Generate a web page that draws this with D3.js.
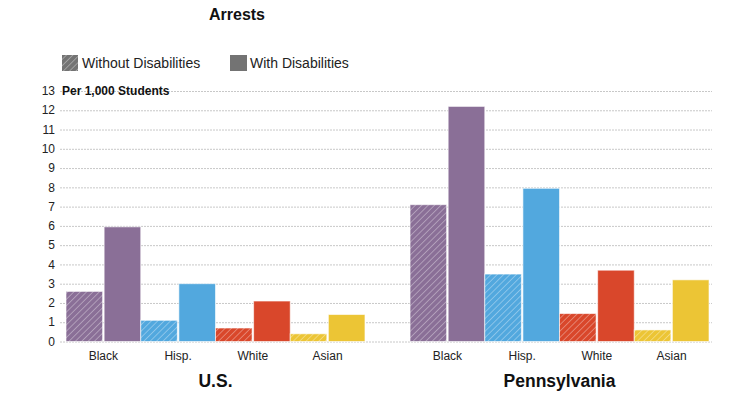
<!DOCTYPE html>
<html>
<head>
<meta charset="utf-8">
<script src="https://cdn.jsdelivr.net/npm/d3@7"></script>
<style>
  body { margin: 0; background: #fff; font-family: "Liberation Sans", Arial, sans-serif; }
  .grid line { stroke: #c8c8c8; stroke-dasharray: 2,1; }
  .grid path { display: none; }
</style>
</head>
<body>
<div id="chart"></div>
<script>
const regions = ['U.S.', 'Pennsylvania'];
const groups = ['Black', 'Hisp.', 'White', 'Asian'];
const kinds = ['Without Disabilities', 'With Disabilities'];
const colors = ['#8a6f97', '#52a8de', '#d9472b', '#ecc535'];
const yTicks = [0, 1, 2, 3, 4, 5, 6, 7, 8, 9, 10, 11, 12, 13];
// [without, with] per group
const usValues = [[2.6, 5.95], [1.1, 3.0], [0.7, 2.1], [0.4, 1.4]];
const paValues = [[7.1, 12.2], [3.5, 7.95], [1.45, 3.7], [0.6, 3.2]];
const regionValues = [usValues, paValues];

const width = 734, height = 398;
const svg = d3.select('#chart').append('svg')
  .attr('width', width).attr('height', height);

// hatch patterns
const defs = svg.append('defs');
colors.concat(['#737373']).forEach((c, i) => {
  const p = defs.append('pattern')
    .attr('id', 'hatch' + i)
    .attr('patternUnits', 'userSpaceOnUse')
    .attr('width', 4.5).attr('height', 4.5)
    .attr('patternTransform', 'rotate(45)');
  p.append('rect').attr('width', 4.5).attr('height', 4.5).attr('fill', c);
  p.append('line').attr('x1', 0).attr('y1', 0).attr('x2', 0).attr('y2', 4.5)
    .attr('stroke', '#fff').attr('stroke-width', 1.4).attr('stroke-opacity', 0.45);
});

const y = d3.scaleLinear().domain([0, 13]).range([341.5, 91]);
const x0 = d3.scaleBand().domain(regions).range([66, 709]).paddingInner(0.131);
const x1 = d3.scaleBand().domain(groups).range([0, x0.bandwidth()]);
const x2 = d3.scaleBand().domain(kinds).range([0, x1.bandwidth()]).paddingInner(0.04);

// grid
svg.append('g').attr('class', 'grid')
  .attr('transform', 'translate(60,0)')
  .call(d3.axisLeft(y).tickValues(yTicks).tickSize(-652).tickFormat(''));

// y tick labels
svg.append('g').selectAll('text').data(yTicks).join('text')
  .attr('x', 55).attr('y', d => y(d)).attr('dy', '0.35em')
  .attr('text-anchor', 'end')
  .style('font-size', '12px').attr('fill', '#222')
  .text(d => d);

svg.append('text').attr('x', 62).attr('y', 95)
  .style('font-size', '12px').style('font-weight', 'bold').attr('fill', '#111')
  .text('Per 1,000 Students');

// title
svg.append('text').attr('x', 237).attr('y', 20).attr('text-anchor', 'middle')
  .style('font-size', '16px').style('font-weight', 'bold').attr('fill', '#111')
  .text('Arrests');

// legend
const legend = svg.append('g');
legend.append('rect').attr('x', 62).attr('y', 55).attr('width', 16).attr('height', 16)
  .attr('fill', 'url(#hatch4)');
legend.append('text').attr('x', 82).attr('y', 68).style('font-size', '14px').attr('fill', '#222')
  .text(kinds[0]);
legend.append('rect').attr('x', 230).attr('y', 55).attr('width', 17).attr('height', 16)
  .attr('fill', '#737373');
legend.append('text').attr('x', 250).attr('y', 68).style('font-size', '14px').attr('fill', '#222')
  .text(kinds[1]);

// bars
regions.forEach((r, ri) => {
  const g = svg.append('g').attr('transform', `translate(${x0(r)},0)`);
  groups.forEach((grp, gi) => {
    const gg = g.append('g').attr('transform', `translate(${x1(grp)},0)`);
    gg.selectAll('rect').data(regionValues[ri][gi]).join('rect')
      .attr('x', (d, i) => x2(kinds[i]))
      .attr('width', x2.bandwidth())
      .attr('y', d => y(d))
      .attr('height', d => y(0) - y(d))
      .attr('fill', (d, i) => i === 0 ? `url(#hatch${gi})` : colors[gi])
      .attr('stroke', '#fff').attr('stroke-opacity', 0.6).attr('stroke-width', 1);
    gg.append('text')
      .attr('x', x1.bandwidth() / 2).attr('y', 360)
      .attr('text-anchor', 'middle').style('font-size', '12px').attr('fill', '#222')
      .text(grp);
  });
  g.append('text')
    .attr('x', x0.bandwidth() / 2).attr('y', 387)
    .attr('text-anchor', 'middle').style('font-size', '17.5px').style('font-weight', 'bold')
    .attr('fill', '#111')
    .text(r);
});
</script>
</body>
</html>
